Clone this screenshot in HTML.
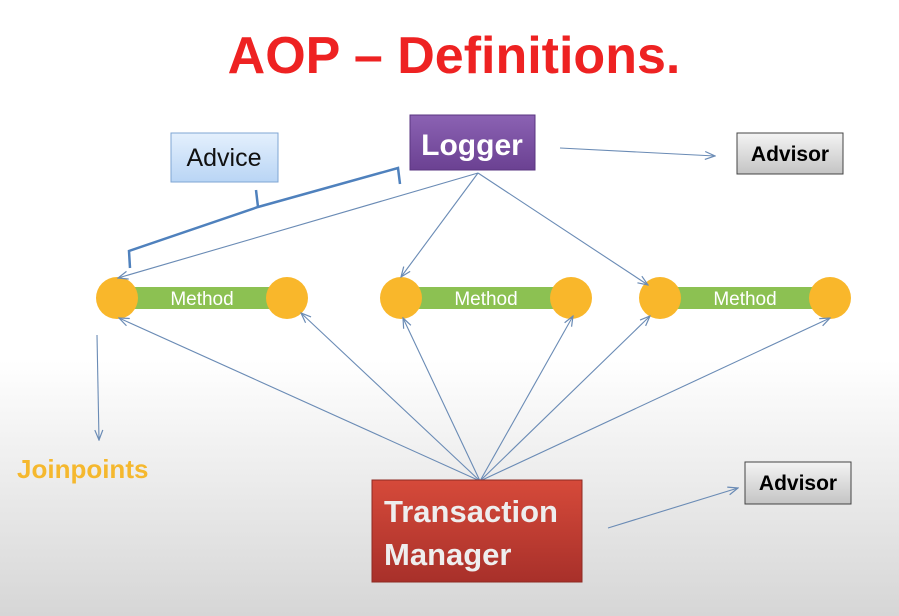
<!DOCTYPE html>
<html><head><meta charset="utf-8"><style>
body{margin:0;width:899px;height:616px;overflow:hidden;background:linear-gradient(#fff 0,#fff 360px,#d6d6d6 616px);font-family:"Liberation Sans",sans-serif}
</style></head><body>
<svg width="899" height="616" xmlns="http://www.w3.org/2000/svg" style="position:absolute;left:0;top:0">
<defs>
<marker id="a" markerWidth="12" markerHeight="10" refX="11" refY="5" orient="auto" markerUnits="userSpaceOnUse">
<path d="M1,1 L11,5 L1,9" fill="none" stroke="#6a8bb5" stroke-width="1.2"/></marker>
<linearGradient id="gr" x1="0" y1="0" x2="0" y2="1"><stop offset="0" stop-color="#f4f4f4"/><stop offset="1" stop-color="#c4c4c4"/></linearGradient>
<linearGradient id="bl" x1="0" y1="0" x2="0" y2="1"><stop offset="0" stop-color="#e4f0fd"/><stop offset="1" stop-color="#b9d5f5"/></linearGradient>
<linearGradient id="pu" x1="0" y1="0" x2="0" y2="1"><stop offset="0" stop-color="#8b62b3"/><stop offset="1" stop-color="#6b4192"/></linearGradient>
<linearGradient id="rd" x1="0" y1="0" x2="0" y2="1"><stop offset="0" stop-color="#d64a3a"/><stop offset="1" stop-color="#a8302a"/></linearGradient>
</defs>
<text x="454" y="73" text-anchor="middle" font-size="52" font-weight="bold" fill="#ee2222">AOP – Definitions.</text>
<rect x="410" y="115" width="125" height="55" fill="url(#pu)" stroke="#5a3580"/>
<text x="472" y="155" text-anchor="middle" font-size="30" font-weight="bold" fill="#fff">Logger</text>
<rect x="737" y="133" width="106" height="41" fill="url(#gr)" stroke="#444"/>
<text x="790" y="161" text-anchor="middle" font-size="21" font-weight="bold" fill="#000">Advisor</text>
<rect x="745" y="462" width="106" height="42" fill="url(#gr)" stroke="#444"/>
<text x="798" y="490" text-anchor="middle" font-size="21" font-weight="bold" fill="#000">Advisor</text>
<rect x="171" y="133" width="107" height="49" fill="url(#bl)" stroke="#7fa6d3"/>
<text x="224" y="166" text-anchor="middle" font-size="25" fill="#111">Advice</text>
<path d="M130,268 L129,251 L258,207 L398,168 L400,184 M258,207 L256,190" fill="none" stroke="#4f81bd" stroke-width="2.5"/>
<g fill="#f9b72b">
<rect x="117" y="287" width="170" height="22" fill="#8cc152"/>
<rect x="401" y="287" width="170" height="22" fill="#8cc152"/>
<rect x="660" y="287" width="170" height="22" fill="#8cc152"/>
<circle cx="117" cy="298" r="21"/><circle cx="287" cy="298" r="21"/>
<circle cx="401" cy="298" r="21"/><circle cx="571" cy="298" r="21"/>
<circle cx="660" cy="298" r="21"/><circle cx="830" cy="298" r="21"/>
</g>
<g font-size="19" fill="#fff" text-anchor="middle">
<text x="202" y="305">Method</text><text x="486" y="305">Method</text><text x="745" y="305">Method</text>
</g>
<g stroke="#6a8bb5" stroke-width="1.1" fill="none" marker-end="url(#a)">
<line x1="478" y1="173" x2="118" y2="278"/>
<line x1="478" y1="173" x2="401" y2="277"/>
<line x1="478" y1="173" x2="648" y2="285"/>
<line x1="560" y1="148" x2="715" y2="156"/>
<line x1="97" y1="335" x2="99" y2="440"/>
<line x1="480" y1="481" x2="119" y2="318"/>
<line x1="480" y1="481" x2="301" y2="313"/>
<line x1="480" y1="481" x2="403" y2="318"/>
<line x1="480" y1="481" x2="573" y2="316"/>
<line x1="480" y1="481" x2="650" y2="316"/>
<line x1="480" y1="481" x2="830" y2="318"/>
<line x1="608" y1="528" x2="738" y2="488"/>
</g>
<text x="17" y="478" font-size="26" font-weight="bold" fill="#f5b82e">Joinpoints</text>
<rect x="372" y="480" width="210" height="102" fill="url(#rd)" stroke="#8e2a22"/>
<text x="384" y="522" font-size="31" font-weight="bold" fill="#eee">Transaction</text>
<text x="384" y="565" font-size="31" font-weight="bold" fill="#eee">Manager</text>
</svg>
</body></html>
